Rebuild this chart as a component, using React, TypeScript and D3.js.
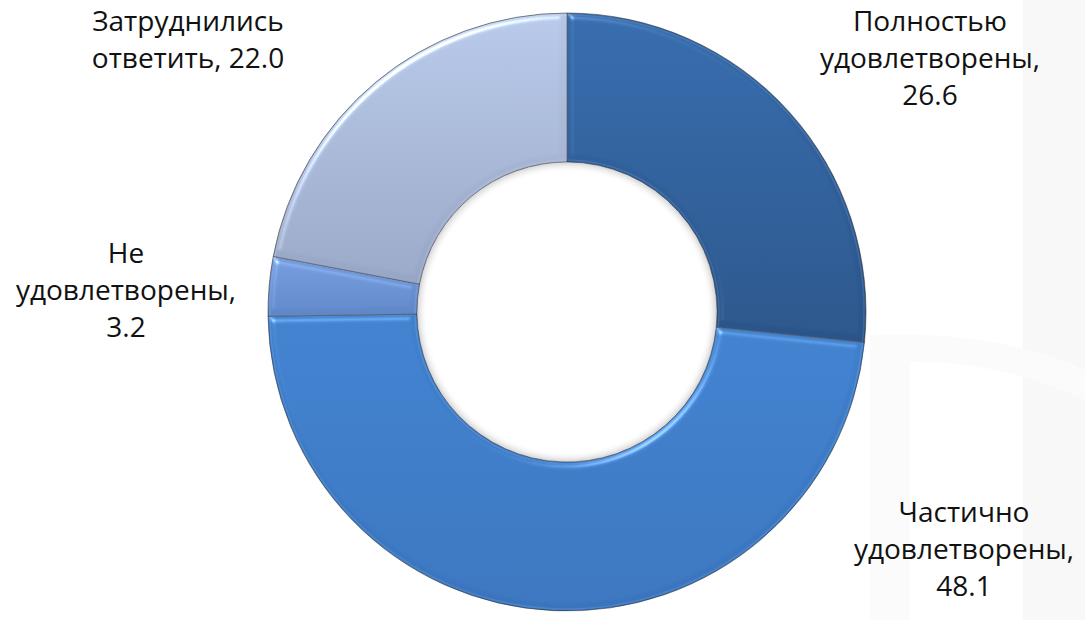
import React from "react";
import * as d3 from "d3";

// ---- data ----
const categories = [
  "Полностью удовлетворены",
  "Частично удовлетворены",
  "Не удовлетворены",
  "Затруднились ответить",
];
const values = [26.6, 48.1, 3.2, 22.0];
const labelLines = [
  ["Полностью", "удовлетворены,"],
  ["Частично", "удовлетворены,"],
  ["Не", "удовлетворены,"],
  ["Затруднились", "ответить,"],
];
const valueInline = [false, false, false, true];

// ---- layout / style ----
const W = 1085;
const H = 620;
const CX = 567;
const CY = 312;
const R_OUT = 299;
const R_IN = 150;
const LINE_H = 37;
const labelAnchors = [
  { x: 930, y: 31 },
  { x: 964, y: 522 },
  { x: 126, y: 263 },
  { x: 188, y: 31 },
];
const gradStops = [
  ["#346aab", "#2a5489"],
  ["#3f80cd", "#3a74bd"],
  ["#739bdb", "#5f86c6"],
  ["#b6c6e6", "#97a6c4"],
];

export default function App() {
  const pie = d3
    .pie<number>()
    .sort(null)
    .value((d) => d)
    .startAngle(0)
    .endAngle(2 * Math.PI);
  const arcs = pie(values);
  const arc = d3.arc<d3.PieArcDatum<number>>().innerRadius(R_IN).outerRadius(R_OUT);
  const arcInset = d3
    .arc<d3.PieArcDatum<number>>()
    .innerRadius(R_IN + 2)
    .outerRadius(R_OUT - 2);

  return (
    <svg
      width={W}
      height={H}
      style={{ position: "absolute", left: 0, top: 0, background: "#ffffff" }}
      fontFamily="'Open Sans', 'Noto Sans', sans-serif"
    >
      <defs>
        {gradStops.map((s, i) => (
          <linearGradient key={i} id={`g${i}`} x1="0" y1="0" x2="0" y2="1">
            <stop offset="0%" stopColor={s[0]} />
            <stop offset="100%" stopColor={s[1]} />
          </linearGradient>
        ))}
        <filter
          id="bevel"
          x="-5%"
          y="-5%"
          width="110%"
          height="110%"
          colorInterpolationFilters="sRGB"
        >
          <feGaussianBlur in="SourceAlpha" stdDeviation="3" result="blur" />
          <feSpecularLighting
            in="blur"
            surfaceScale="4"
            specularConstant="0.7"
            specularExponent="30"
            lightingColor="#ffffff"
            result="spec"
          >
            <feDistantLight azimuth="235" elevation="38" />
          </feSpecularLighting>
          <feComposite in="spec" in2="SourceAlpha" operator="in" result="specOut" />
          <feComposite
            in="SourceGraphic"
            in2="specOut"
            operator="arithmetic"
            k1="0"
            k2="1"
            k3="0.55"
            k4="0"
          />
        </filter>
        <radialGradient id="holeShadow" cx={CX} cy={CY} r={R_IN} gradientUnits="userSpaceOnUse">
          <stop offset="93%" stopColor="#ffffff" stopOpacity="0" />
          <stop offset="100%" stopColor="#000000" stopOpacity="0.18" />
        </radialGradient>
      </defs>

      {/* faint background watermark */}
      <rect x={1023} y={0} width={62} height={H} fill="#f8f8f8" />
      <path
        d={`M 870 335 Q 1000 330 1085 370 L 1085 400 Q 1000 360 910 362 L 910 620 L 870 620 Z`}
        fill="#fbfbfb"
      />

      <g transform={`translate(${CX},${CY})`}>
        {arcs.map((a, i) => (
          <g key={i}>
            <path d={arc(a) || ""} fill={`url(#g${i})`} filter="url(#bevel)" />
            <path d={arc(a) || ""} fill="none" stroke="#2b2b2b" strokeOpacity={0.55} strokeWidth={1} />
            <path
              d={arcInset(a) || ""}
              fill="none"
              stroke="#ffffff"
              strokeOpacity={0.1}
              strokeWidth={1.5}
            />
          </g>
        ))}
      </g>
      <circle cx={CX} cy={CY} r={R_IN - 0.5} fill="url(#holeShadow)" />

      {arcs.map((a, i) => {
        const val = values[i].toFixed(1);
        const lines = valueInline[i]
          ? [...labelLines[i].slice(0, -1), `${labelLines[i][labelLines[i].length - 1]} ${val}`]
          : [...labelLines[i], val];
        const an = labelAnchors[i];
        return (
          <text
            key={i}
            x={an.x}
            y={an.y}
            textAnchor="middle"
            fontSize={28}
            fill="#111111"
            aria-label={categories[i]}
          >
            {lines.map((l, j) => (
              <tspan key={j} x={an.x} y={an.y + j * LINE_H}>
                {l}
              </tspan>
            ))}
          </text>
        );
      })}
    </svg>
  );
}
